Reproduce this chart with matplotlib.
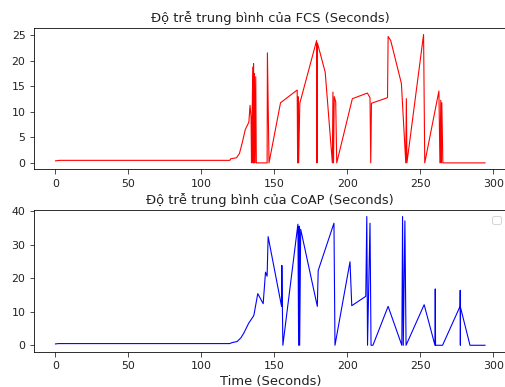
import matplotlib
matplotlib.use("Agg")
import matplotlib.pyplot as plt

fcs_t = [0, 3, 119.5, 120, 124, 126, 128, 130, 132.5, 133.3, 134.0, 134.3, 135.2, 135.4,
         135.7, 136.0, 136.3, 136.7, 137.2, 137.6, 145.0, 145.2, 146.3, 154.2, 165.6,
         165.9, 166.2, 166.6, 167.4, 178.9, 179.2, 179.5, 184.8, 189.7, 190.1, 190.5,
         191.0, 192.0, 192.7, 203.4, 213.7, 215.5, 216.0, 216.5, 227.5, 227.9, 229.7,
         237.0, 240.0, 240.4, 240.8, 252.2, 253.0, 262.7, 263.4, 264.0, 264.3, 264.7,
         265.4, 294.3]
fcs_v = [0.4, 0.5, 0.5, 0.8, 1.0, 1.8, 4.0, 6.5, 8.0, 11.3, 9.0, 0.0, 18.8, 0.0,
         19.5, 0.0, 17.5, 0.0, 16.9, 0.0, 0.0, 21.6, 0.0, 11.8, 14.3,
         0.0, 13.0, 0.0, 11.7, 24.0, 0.0, 23.5, 17.8, 0.0, 13.9, 0.0,
         13.0, 12.0, 0.0, 12.6, 13.7, 12.8, 0.0, 11.7, 12.8, 24.8, 24.0,
         15.6, 0.0, 12.6, 0.0, 25.2, 0.0, 14.1, 0.0, 12.3, 0.0, 11.8,
         0.0, 0.0]

coap_t = [0, 2, 119.4, 121, 124.4, 127, 129, 132.4, 135.5, 136, 138.6, 142.3, 143.9,
          145.0, 145.7, 154.9, 155.1, 155.8, 166.1, 166.6, 167.0, 167.3, 168.0, 179.4,
          180.0, 190.8, 191.5, 201.8, 203.0, 212.6, 213.3, 213.8, 215.5, 216.2, 217.5,
          227.9, 237.3, 237.8, 238.3, 239.4, 240.2, 252.6, 260.0, 260.2, 260.4, 265.2,
          277.2, 277.3, 277.4, 277.5, 284.0, 294.3]
coap_v = [0.4, 0.5, 0.5, 0.8, 1.1, 2.2, 3.6, 6.6, 8.6, 9.1, 15.4, 12.4, 21.8,
          20.6, 32.4, 11.6, 23.8, 0.0, 36.1, 0.0, 35.5, 0.0, 34.6, 11.6,
          22.3, 36.4, 0.0, 24.9, 11.8, 14.6, 38.4, 0.0, 36.4, 0.0, 0.0,
          11.6, 0.0, 38.4, 0.0, 37.1, 0.0, 12.1, 0.0, 16.8, 0.0, 0.0,
          11.6, 16.4, 0.0, 11.3, 0.0, 0.0]

plt.rcParams["font.size"] = 11
plt.rcParams["axes.titlesize"] = 13
plt.rcParams["text.color"] = "#222222"
plt.rcParams["xtick.color"] = "#222222"
plt.rcParams["ytick.color"] = "#222222"
plt.rcParams["axes.labelcolor"] = "#222222"
plt.rcParams["xtick.major.size"] = 4.5
plt.rcParams["ytick.major.size"] = 4.5
plt.rcParams["xtick.major.pad"] = 5
plt.rcParams["ytick.major.pad"] = 4

fig = plt.figure(figsize=(505 / 72, 387 / 72), dpi=72)
ax1 = fig.add_axes([34 / 505, 0.5625, 472.5 / 505, 0.365])
ax2 = fig.add_axes([34 / 505, 0.0912, 472.5 / 505, 0.366])

ax1.plot(fcs_t, fcs_v, color="red", linewidth=1.1)
ax1.set_title("Độ trễ trung bình của FCS (Seconds)")

ax2.plot(coap_t, coap_v, color="blue", linewidth=1.1)
ax2.set_title("Độ trễ trung bình của CoAP (Seconds)")
ax2.set_xlabel("Time (Seconds)", fontsize=13, labelpad=4)
ax2.legend()

fig.savefig("out.png", dpi=72)
